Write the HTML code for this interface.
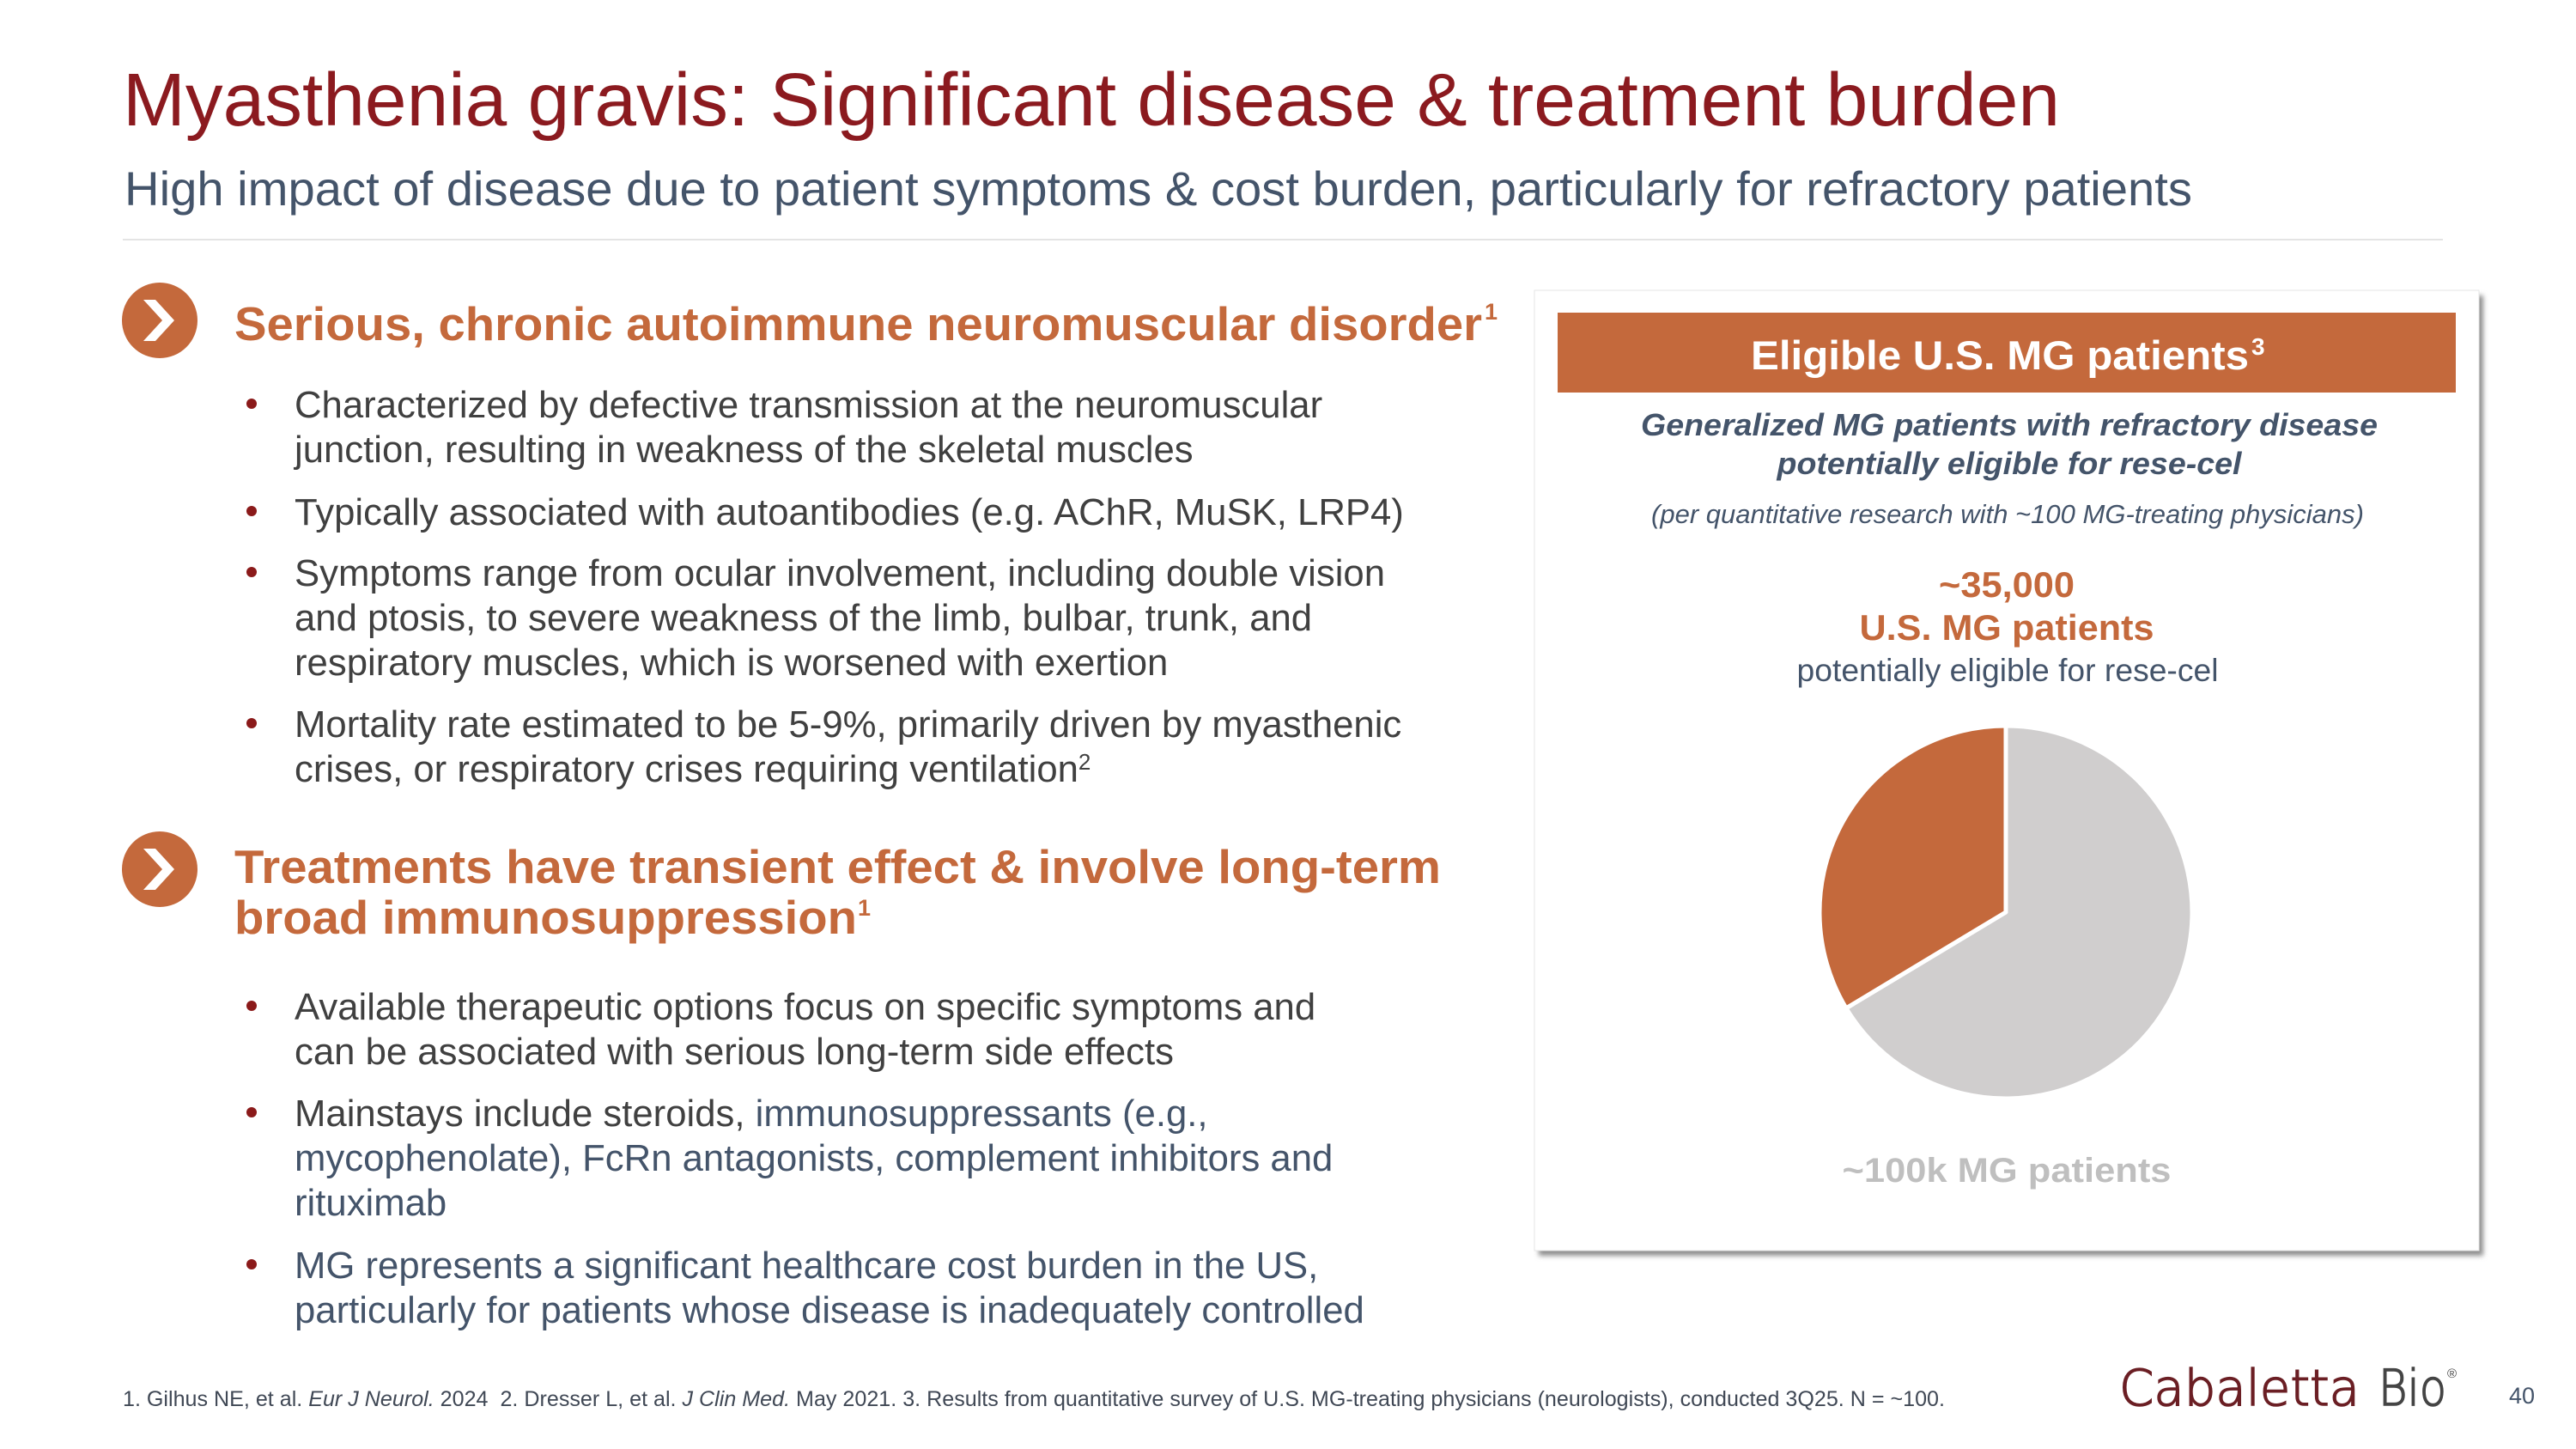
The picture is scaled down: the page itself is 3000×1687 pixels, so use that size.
<!DOCTYPE html>
<html>
<head>
<meta charset="utf-8">
<style>
  html,body{margin:0;padding:0;background:#ffffff;}
  body{width:3000px;height:1687px;overflow:hidden;}
  svg{display:block;}
  text{font-family:"Liberation Sans", Arial, sans-serif;}
</style>
</head>
<body>
<svg width="3000" height="1687" viewBox="0 0 3000 1687" xmlns="http://www.w3.org/2000/svg">
  <defs>
    <filter id="sh" x="-5%" y="-5%" width="110%" height="110%">
      <feGaussianBlur stdDeviation="3"/>
    </filter>
  </defs>
  <rect x="0" y="0" width="3000" height="1687" fill="#ffffff"/>

  <!-- Title -->
  <text x="143" y="146" font-size="87" fill="#8B1A1F" textLength="2256" lengthAdjust="spacingAndGlyphs">Myasthenia gravis: Significant disease &amp; treatment burden</text>
  <!-- Subtitle -->
  <text x="145" y="239" font-size="56" fill="#44546A" textLength="2408" lengthAdjust="spacingAndGlyphs">High impact of disease due to patient symptoms &amp; cost burden, particularly for refractory patients</text>
  <!-- Separator -->
  <rect x="143" y="278" width="2702" height="2" fill="#E4E4E4"/>

  <!-- Section 1 icon -->
  <circle cx="186" cy="373" r="44" fill="#C4693C"/>
  <polygon points="167,349 181,349 203,373 181,397 167,397 189,373" fill="#ffffff"/>
  <text x="273" y="396" font-size="55" font-weight="bold" fill="#C4693C" textLength="1453" lengthAdjust="spacingAndGlyphs">Serious, chronic autoimmune neuromuscular disorder</text>
  <text x="1729" y="372" font-size="27" font-weight="bold" fill="#C4693C">1</text>

  <!-- Section 1 bullets -->
  <g fill="#8B1A1A">
    <circle cx="293" cy="470" r="6"/>
    <circle cx="293" cy="595" r="6"/>
    <circle cx="293" cy="666" r="6"/>
    <circle cx="293" cy="842" r="6"/>
  </g>
  <g font-size="43.7" fill="#404040">
    <text x="343" y="486">Characterized by defective transmission at the neuromuscular</text>
    <text x="343" y="538">junction, resulting in weakness of the skeletal muscles</text>
    <text x="343" y="611">Typically associated with autoantibodies (e.g. AChR, MuSK, LRP4)</text>
    <text x="343" y="682">Symptoms range from ocular involvement, including double vision</text>
    <text x="343" y="734">and ptosis, to severe weakness of the limb, bulbar, trunk, and</text>
    <text x="343" y="786">respiratory muscles, which is worsened with exertion</text>
    <text x="343" y="858">Mortality rate estimated to be 5-9%, primarily driven by myasthenic</text>
    <text x="343" y="910">crises, or respiratory crises requiring ventilation<tspan font-size="26" dy="-14">2</tspan></text>
  </g>

  <!-- Section 2 icon -->
  <circle cx="186" cy="1012" r="44" fill="#C4693C"/>
  <polygon points="167,988 181,988 203,1012 181,1036 167,1036 189,1012" fill="#ffffff"/>
  <text x="273" y="1028" font-size="55" font-weight="bold" fill="#C4693C" textLength="1405" lengthAdjust="spacingAndGlyphs">Treatments have transient effect &amp; involve long-term</text>
  <text x="273" y="1087" font-size="55" font-weight="bold" fill="#C4693C" textLength="725" lengthAdjust="spacingAndGlyphs">broad immunosuppression</text>
  <text x="999" y="1066" font-size="27" font-weight="bold" fill="#C4693C">1</text>

  <!-- Section 2 bullets -->
  <g fill="#8B1A1A">
    <circle cx="293" cy="1171" r="6"/>
    <circle cx="293" cy="1295" r="6"/>
    <circle cx="293" cy="1472" r="6"/>
  </g>
  <g font-size="43.7">
    <text x="343" y="1187" fill="#404040">Available therapeutic options focus on specific symptoms and</text>
    <text x="343" y="1239" fill="#404040">can be associated with serious long-term side effects</text>
    <text x="343" y="1311" fill="#404040">Mainstays include steroids, <tspan fill="#44546A">immunosuppressants (e.g.,</tspan></text>
    <text x="343" y="1363" fill="#44546A">mycophenolate), FcRn antagonists, complement inhibitors and</text>
    <text x="343" y="1415" fill="#44546A">rituximab</text>
    <text x="343" y="1488" fill="#44546A">MG represents a significant healthcare cost burden in the US,</text>
    <text x="343" y="1540" fill="#44546A">particularly for patients whose disease is inadequately controlled</text>
  </g>

  <!-- Card -->
  <rect x="1792" y="344" width="1100" height="1118" fill="#8f8f8f" filter="url(#sh)"/>
  <rect x="1787" y="338" width="1100" height="1118" fill="#ffffff" stroke="#E6E6E6" stroke-width="1"/>
  <rect x="1814" y="364" width="1046" height="93" fill="#C4693C"/>
  <text x="2039" y="430" font-size="47" font-weight="bold" fill="#ffffff" textLength="580" lengthAdjust="spacingAndGlyphs">Eligible U.S. MG patients</text>
  <text x="2622" y="413" font-size="28" font-weight="bold" fill="#ffffff">3</text>

  <text x="2340" y="507" font-size="36" font-weight="bold" font-style="italic" fill="#44546A" text-anchor="middle" textLength="858" lengthAdjust="spacingAndGlyphs">Generalized MG patients with refractory disease</text>
  <text x="2340" y="552" font-size="36" font-weight="bold" font-style="italic" fill="#44546A" text-anchor="middle" textLength="541" lengthAdjust="spacingAndGlyphs">potentially eligible for rese-cel</text>
  <text x="2338" y="609" font-size="30.5" font-style="italic" fill="#44546A" text-anchor="middle" textLength="830" lengthAdjust="spacingAndGlyphs">(per quantitative research with ~100 MG-treating physicians)</text>

  <text x="2337" y="695" font-size="42" font-weight="bold" fill="#C4693C" text-anchor="middle" textLength="158" lengthAdjust="spacingAndGlyphs">~35,000</text>
  <text x="2337" y="745" font-size="42" font-weight="bold" fill="#C4693C" text-anchor="middle" textLength="343" lengthAdjust="spacingAndGlyphs">U.S. MG patients</text>
  <text x="2338" y="793" font-size="37" fill="#44546A" text-anchor="middle" textLength="491" lengthAdjust="spacingAndGlyphs">potentially eligible for rese-cel</text>

  <!-- Pie -->
  <path d="M2336,1062 L2336,845 A217,217 0 1 1 2150,1173.8 Z" fill="#D0CECE" stroke="#ffffff" stroke-width="5" stroke-linejoin="round"/>
  <path d="M2336,1062 L2150,1173.8 A217,217 0 0 1 2336,845 Z" fill="#C4693C" stroke="#ffffff" stroke-width="5" stroke-linejoin="round"/>

  <text x="2337" y="1376" font-size="40" font-weight="bold" fill="#BFBFBF" text-anchor="middle" textLength="383" lengthAdjust="spacingAndGlyphs">~100k MG patients</text>

  <!-- Footnote -->
  <text x="143" y="1637" font-size="25" fill="#404855" textLength="2122" lengthAdjust="spacingAndGlyphs">1. Gilhus NE, et al. <tspan font-style="italic">Eur J Neurol.</tspan> 2024&#160; 2. Dresser L, et al. <tspan font-style="italic">J Clin Med.</tspan> May 2021. 3. Results from quantitative survey of U.S. MG-treating physicians (neurologists), conducted 3Q25. N = ~100.</text>

  <!-- Logo -->
  <text x="2468" y="1636" font-size="58" font-weight="200" fill="#6B1F24" stroke="#6B1F24" stroke-width="1.6" style="font-family:'DejaVu Sans','Liberation Sans',sans-serif;" textLength="280" lengthAdjust="spacingAndGlyphs">Cabaletta</text>
  <text x="2770" y="1636" font-size="58" font-weight="200" fill="#454545" stroke="#454545" stroke-width="1.6" style="font-family:'DejaVu Sans','Liberation Sans',sans-serif;" textLength="79" lengthAdjust="spacingAndGlyphs">Bio</text>
  <text x="2850" y="1604" font-size="15" fill="#454545">®</text>

  <!-- Page number -->
  <text x="2922" y="1634" font-size="27" fill="#44546A">40</text>
</svg>
</body>
</html>
